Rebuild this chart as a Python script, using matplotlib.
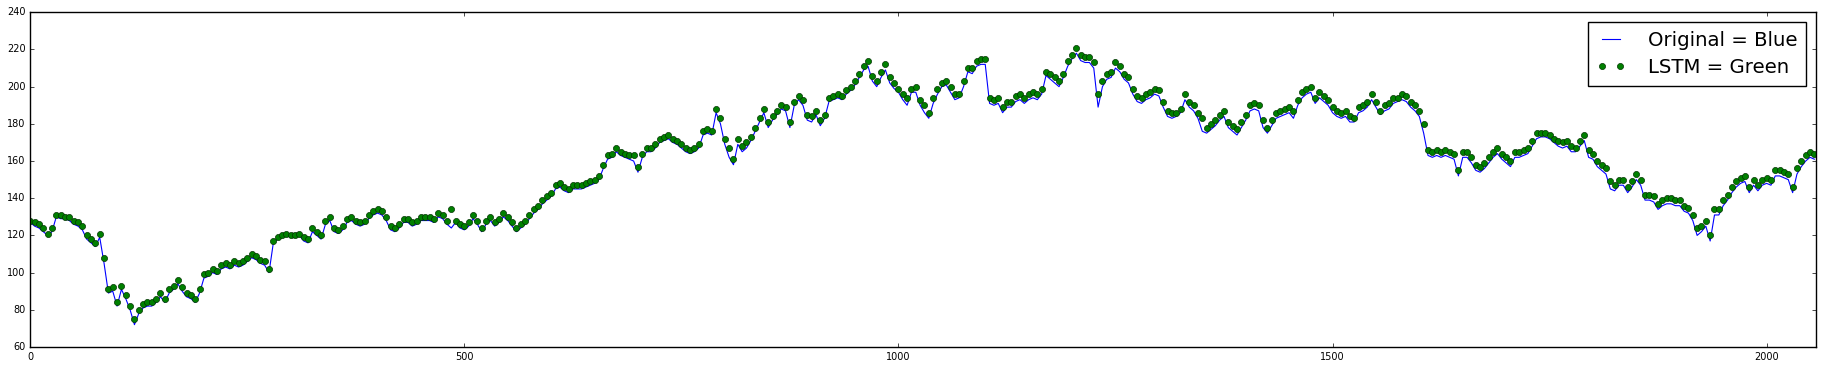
import matplotlib
matplotlib.use('Agg')
import matplotlib.pyplot as plt
import numpy as np

# prezzi, un valore ogni 5 campioni
step = 5
original = [
    127, 125, 124, 122, 120, 122, 130, 129, 129, 128, 126, 125, 123, 118, 116, 114, 119, 105, 89, 90,
    82, 91, 86, 80, 72, 78, 81, 82, 82, 84, 87, 84, 89, 91, 94, 90, 87, 86, 84, 89,
    97, 98, 100, 99, 102, 103, 102, 104, 103, 104, 106, 108, 107, 105, 104, 100, 116, 118, 119, 120,
    119, 119, 120, 117, 116, 122, 120, 118, 126, 128, 122, 121, 123, 127, 128, 126, 125, 126, 129, 131,
    132, 131, 128, 123, 122, 124, 127, 127, 125, 126, 128, 128, 128, 127, 130, 129, 126, 124, 127, 124,
    123, 125, 129, 126, 122, 126, 128, 125, 127, 130, 128, 125, 122, 124, 126, 129, 132, 134, 137, 139,
    141, 145, 146, 144, 143, 145, 145, 145, 146, 147, 148, 150, 156, 161, 162, 165, 163, 162, 161, 160,
    154, 162, 165, 165, 167, 170, 171, 172, 170, 169, 167, 165, 164, 165, 167, 174, 175, 174, 186, 180,
    169, 162, 158, 169, 165, 167, 171, 176, 181, 186, 178, 182, 185, 188, 187, 178, 190, 193, 190, 182,
    181, 185, 179, 183, 192, 193, 194, 193, 196, 198, 201, 205, 209, 211, 203, 200, 205, 209, 202, 199,
    197, 193, 190, 197, 197, 190, 186, 183, 191, 196, 200, 201, 197, 193, 194, 200, 208, 207, 211, 212,
    212, 191, 190, 191, 186, 189, 189, 192, 193, 191, 193, 194, 193, 196, 206, 204, 202, 200, 205, 211,
    215, 218, 214, 213, 213, 210, 189, 200, 204, 205, 210, 208, 204, 202, 196, 192, 191, 193, 194, 196,
    195, 189, 184, 183, 184, 186, 193, 189, 187, 183, 176, 175, 177, 179, 182, 184, 178, 176, 174, 178,
    182, 187, 188, 187, 178, 175, 179, 183, 184, 185, 186, 183, 190, 194, 196, 197, 191, 194, 192, 190,
    186, 184, 183, 184, 181, 181, 186, 187, 189, 193, 189, 185, 187, 188, 191, 192, 193, 192, 189, 187,
    184, 175, 163, 162, 163, 162, 163, 162, 161, 152, 162, 162, 159, 155, 154, 156, 159, 162, 164, 161,
    159, 157, 162, 162, 163, 164, 168, 172, 173, 173, 172, 170, 168, 167, 168, 165, 165, 168, 171, 162,
    161, 157, 155, 153, 145, 144, 147, 147, 143, 146, 150, 147, 139, 139, 138, 134, 136, 137, 137, 136,
    136, 133, 132, 128, 120, 122, 125, 117, 131, 131, 136, 139, 143, 146, 148, 149, 143, 147, 144, 147,
    148, 147, 152, 152, 151, 150, 143, 153, 157, 160, 162, 161,
]
lstm = [
    128, 127, 126, 124, 121, 124, 131, 131, 130, 130, 128, 127, 125, 120, 118, 116, 121, 108, 91, 92,
    84, 93, 88, 82, 75, 80, 83, 84, 84, 86, 89, 86, 91, 93, 96, 92, 89, 88, 86, 91,
    99, 100, 102, 101, 104, 105, 104, 106, 105, 106, 108, 110, 109, 107, 106, 102, 117, 119, 120, 121,
    120, 120, 121, 119, 118, 124, 122, 120, 128, 130, 124, 123, 125, 129, 130, 128, 127, 128, 131, 133,
    134, 133, 130, 125, 124, 126, 129, 129, 127, 128, 130, 130, 130, 129, 132, 131, 128, 134, 128, 126,
    125, 127, 131, 128, 124, 128, 130, 127, 129, 132, 130, 127, 124, 126, 128, 131, 134, 136, 139, 141,
    143, 147, 148, 146, 145, 147, 147, 147, 148, 149, 150, 152, 158, 163, 164, 167, 165, 164, 163, 163,
    157, 164, 167, 167, 169, 172, 173, 174, 172, 171, 169, 167, 166, 167, 169, 176, 177, 176, 188, 183,
    172, 167, 161, 172, 168, 170, 173, 178, 183, 188, 181, 184, 187, 190, 189, 181, 192, 195, 193, 185,
    184, 187, 182, 185, 194, 195, 196, 195, 198, 200, 203, 207, 211, 214, 206, 203, 208, 212, 205, 202,
    199, 196, 194, 199, 200, 193, 190, 186, 194, 199, 202, 203, 200, 196, 196, 203, 210, 210, 214, 215,
    215, 194, 193, 194, 189, 192, 192, 195, 196, 194, 196, 197, 196, 199, 208, 207, 205, 203, 207, 214,
    217, 221, 217, 216, 216, 213, 196, 203, 207, 208, 213, 211, 207, 205, 199, 195, 194, 196, 197, 199,
    198, 192, 187, 186, 186, 188, 196, 192, 190, 186, 183, 178, 180, 182, 185, 187, 181, 179, 177, 181,
    185, 190, 191, 190, 182, 178, 182, 186, 187, 188, 189, 187, 193, 197, 199, 200, 194, 197, 195, 193,
    189, 187, 186, 187, 184, 183, 189, 190, 192, 196, 192, 187, 190, 191, 194, 194, 196, 195, 192, 190,
    187, 180, 166, 165, 166, 165, 166, 165, 164, 155, 165, 165, 162, 158, 157, 159, 162, 165, 167, 164,
    162, 160, 165, 165, 166, 167, 171, 175, 175, 175, 174, 172, 171, 170, 171, 168, 167, 171, 174, 166,
    164, 160, 158, 156, 149, 147, 150, 150, 146, 149, 153, 150, 142, 142, 141, 137, 139, 140, 140, 139,
    139, 136, 135, 131, 124, 125, 128, 120, 134, 134, 139, 142, 146, 149, 151, 152, 146, 150, 147, 150,
    151, 150, 155, 155, 154, 153, 146, 156, 160, 163, 165, 164,
]
n_samples = 2057

plt.style.use('classic')
fig = plt.figure(figsize=(18.23, 3.68), dpi=100)
fig.subplots_adjust(left=0.0166, right=0.9962, bottom=0.0571, top=0.9666)
ax = fig.add_subplot(111)

x = np.arange(len(original)) * step
ax.plot(x, original, color='b', lw=0.8, label='Original = Blue')
ax.plot(x, lstm, 'o', color='g', ms=4.4, mec='#003300', mew=0.5, label='LSTM = Green')

ax.set_xlim(0, n_samples)
ax.set_ylim(60, 240)
ax.set_xticks([0, 500, 1000, 1500, 2000])
ax.set_yticks(range(60, 241, 20))
ax.tick_params(labelsize=7, length=3, pad=3.5)

ax.legend(loc='upper right', fontsize=14.2, numpoints=2, handlelength=1.5,
          handletextpad=1.1, borderpad=0.45, labelspacing=0.4, borderaxespad=0.5)

fig.savefig('out.png', dpi=100)
